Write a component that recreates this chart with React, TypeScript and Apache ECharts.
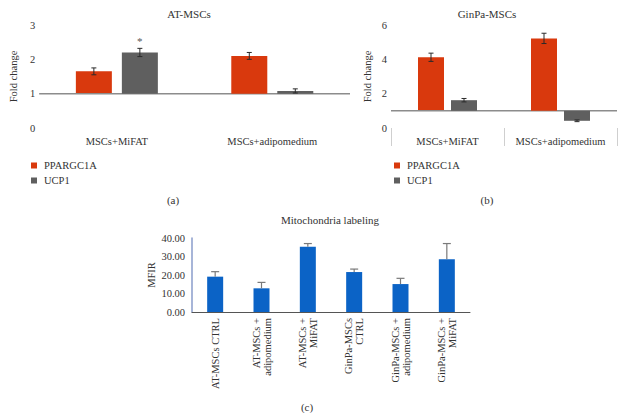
import React, { useEffect, useRef } from "react";
import * as echarts from "echarts";

// Fold-change panels (a) AT-MSCs and (b) GinPa-MSCs
const GROUPS = ["MSCs+MiFAT", "MSCs+adipomedium"];
const GENES = ["PPARGC1A", "UCP1"];
const FOLD_BASE = 1;

const AT_PPARGC1A = [1.65, 2.1];
const AT_PPARGC1A_ERR = [0.1, 0.1];
const AT_UCP1 = [2.2, 1.08];
const AT_UCP1_ERR = [0.12, 0.06];
const AT_UCP1_SIG = ["*", ""];

const GP_PPARGC1A = [4.12, 5.22];
const GP_PPARGC1A_ERR = [0.24, 0.3];
const GP_UCP1 = [1.62, 0.42];
const GP_UCP1_ERR = [0.1, 0.05];

const AT_TICKS = [0, 3, 1];
const GP_TICKS = [0, 6, 2];

// Panel (c) mitochondria labeling
const MITO_CATS = [
  "AT-MSCs CTRL",
  "AT-MSCs +\nadipomedium",
  "AT-MSCs +\nMiFAT",
  "GinPa-MSCs\nCTRL",
  "GinPa-MSCs +\nadipomedium",
  "GinPa-MSCs +\nMiFAT",
];
const MITO_MFIR = [19.1, 12.8, 35.3, 21.6, 15.1, 28.5];
const MITO_ERR = [2.7, 3.2, 1.7, 1.6, 3.1, 8.5];
const MFIR_TICKS = [0, 40, 10];

const RED = "#d9390d";
const GRAY = "#5f5f5f";
const BLUE = "#0b63c6";
const FONT = "Liberation Serif";
const TXT = "#333";

function foldBars(
  name: string,
  gridIndex: number,
  values: number[],
  errs: number[],
  color: string,
  offset: number,
  width: number,
  marks: string[] | null,
  drawBase: boolean
) {
  return {
    type: "custom",
    name,
    xAxisIndex: gridIndex,
    yAxisIndex: gridIndex,
    itemStyle: { color },
    data: values.map((v, i) => [i, v, errs[i]]),
    renderItem: (params: any, api: any) => {
      const i = api.value(0);
      const v = api.value(1);
      const e = api.value(2);
      const b = api.coord([i, FOLD_BASE]);
      const t = api.coord([i, v]);
      const hi = api.coord([i, v + e]);
      const lo = api.coord([i, v - e]);
      const cx = b[0] + offset;
      const children: any[] = [
        {
          type: "rect",
          shape: {
            x: cx - width / 2,
            y: Math.min(b[1], t[1]),
            width,
            height: Math.abs(b[1] - t[1]),
          },
          style: { fill: color },
        },
        {
          type: "line",
          shape: { x1: cx, y1: hi[1], x2: cx, y2: lo[1] },
          style: { stroke: "#2a2a2a", lineWidth: 1 },
        },
        {
          type: "line",
          shape: { x1: cx - 2.5, y1: hi[1], x2: cx + 2.5, y2: hi[1] },
          style: { stroke: "#2a2a2a", lineWidth: 1 },
        },
        {
          type: "line",
          shape: { x1: cx - 2.5, y1: lo[1], x2: cx + 2.5, y2: lo[1] },
          style: { stroke: "#2a2a2a", lineWidth: 1 },
        },
      ];
      if (marks && marks[i]) {
        children.push({
          type: "text",
          x: cx,
          y: hi[1] - 2,
          style: {
            text: marks[i],
            textAlign: "center",
            textVerticalAlign: "bottom",
            font: `11px ${FONT}`,
            fill: "#555",
          },
        });
      }
      if (drawBase && params.dataIndex === 0) {
        const cs = params.coordSys;
        children.push({
          type: "line",
          shape: { x1: cs.x, y1: b[1], x2: cs.x + cs.width, y2: b[1] },
          style: { stroke: "#8c8c8c", lineWidth: 1.5 },
        });
      }
      return { type: "group", children };
    },
  };
}

function foldAxes(gridIndex: number, ticks: number[], withSeparators: boolean, nameGap: number) {
  const x = {
    type: "category",
    gridIndex,
    data: GROUPS,
    axisLine: { show: false },
    axisTick: {
      show: withSeparators,
      length: 18,
      lineStyle: { color: "#cfcfcf", width: 1 },
    },
    axisLabel: {
      interval: 0,
      hideOverlap: false,
      color: TXT,
      fontSize: 10.5,
      fontFamily: FONT,
      margin: 8,
    },
  };
  const y = {
    type: "value",
    gridIndex,
    min: ticks[0],
    max: ticks[1],
    interval: ticks[2],
    axisLine: { show: false },
    axisTick: { show: false },
    splitLine: { show: false },
    axisLabel: { color: TXT, fontSize: 10.5, fontFamily: FONT, margin: 4 },
    name: "Fold change",
    nameLocation: "middle",
    nameGap,
    nameTextStyle: { color: TXT, fontSize: 10.5, fontFamily: FONT },
  };
  return { x, y };
}

function legendAt(left: number) {
  return {
    orient: "vertical",
    left,
    top: 155,
    itemGap: 4,
    itemWidth: 6,
    itemHeight: 6,
    icon: "rect",
    selectedMode: false,
    textStyle: { color: TXT, fontSize: 10.5, fontFamily: FONT, padding: [0, 0, 0, 2] },
    data: [
      { name: GENES[0], itemStyle: { color: RED } },
      { name: GENES[1], itemStyle: { color: GRAY } },
    ],
  };
}

function caption(text: string, x: number, y: number, size = 11) {
  return {
    type: "text",
    x,
    y,
    style: {
      text,
      textAlign: "center",
      textVerticalAlign: "middle",
      font: `${size}px ${FONT}`,
      fill: TXT,
    },
  };
}

export default function App() {
  const ref = useRef<HTMLDivElement>(null);

  useEffect(() => {
    if (!ref.current) return;
    const chart = echarts.init(ref.current, null, { renderer: "svg" });

    const a = foldAxes(0, AT_TICKS, false, 16);
    const b = foldAxes(1, GP_TICKS, true, 18);

    chart.setOption({
      animation: false,
      textStyle: { fontFamily: FONT, color: TXT },
      grid: [
        { left: 28, top: 25, width: 322, height: 103 },
        { left: 391, top: 25, width: 226, height: 103 },
        { left: 192, top: 238, width: 278, height: 74 },
      ],
      legend: [legendAt(26), legendAt(389)],
      xAxis: [
        a.x,
        b.x,
        {
          type: "category",
          gridIndex: 2,
          data: MITO_CATS,
          axisLine: { show: true, lineStyle: { color: "#555", width: 1 } },
          axisTick: { show: false },
          axisLabel: {
            interval: 0,
            rotate: 90,
            color: TXT,
            fontSize: 10.5,
            lineHeight: 11,
            fontFamily: FONT,
            margin: 6,
          },
        },
      ],
      yAxis: [
        a.y,
        b.y,
        {
          type: "value",
          gridIndex: 2,
          min: MFIR_TICKS[0],
          max: MFIR_TICKS[1],
          interval: MFIR_TICKS[2],
          axisLine: { show: true, lineStyle: { color: "#8a9ccb", width: 1.5 } },
          axisTick: { show: false },
          splitLine: { show: false },
          axisLabel: {
            color: TXT,
            fontSize: 10.5,
            fontFamily: FONT,
            margin: 7,
            formatter: (v: number) => v.toFixed(2),
          },
          name: "MFIR",
          nameLocation: "middle",
          nameGap: 35,
          nameTextStyle: { color: TXT, fontSize: 10.5, fontFamily: FONT },
        },
      ],
      series: [
        foldBars(GENES[0], 0, AT_PPARGC1A, AT_PPARGC1A_ERR, RED, -23, 36, null, true),
        foldBars(GENES[1], 0, AT_UCP1, AT_UCP1_ERR, GRAY, 23, 36, AT_UCP1_SIG, false),
        foldBars(GENES[0], 1, GP_PPARGC1A, GP_PPARGC1A_ERR, RED, -16.5, 26, null, true),
        foldBars(GENES[1], 1, GP_UCP1, GP_UCP1_ERR, GRAY, 16.5, 26, null, false),
        {
          type: "bar",
          name: "MFIR",
          xAxisIndex: 2,
          yAxisIndex: 2,
          data: MITO_MFIR,
          barWidth: 16,
          itemStyle: { color: BLUE },
        },
        {
          type: "custom",
          name: "MFIR error",
          xAxisIndex: 2,
          yAxisIndex: 2,
          data: MITO_MFIR.map((v, i) => [i, v, MITO_ERR[i]]),
          z: 3,
          renderItem: (_p: any, api: any) => {
            const i = api.value(0);
            const v = api.value(1);
            const e = api.value(2);
            const t = api.coord([i, v]);
            const hi = api.coord([i, v + e]);
            return {
              type: "group",
              children: [
                {
                  type: "line",
                  shape: { x1: t[0], y1: t[1], x2: t[0], y2: hi[1] },
                  style: { stroke: "#7a7a7a", lineWidth: 1.2 },
                },
                {
                  type: "line",
                  shape: { x1: t[0] - 4, y1: hi[1], x2: t[0] + 4, y2: hi[1] },
                  style: { stroke: "#7a7a7a", lineWidth: 1.2 },
                },
              ],
            };
          },
        },
      ],
      graphic: [
        caption("AT-MSCs", 189, 14),
        caption("GinPa-MSCs", 487, 14),
        caption("(a)", 173, 200),
        caption("(b)", 487, 200),
        caption("Mitochondria labeling", 330, 220),
        caption("(c)", 307, 407),
      ],
    });

    return () => chart.dispose();
  }, []);

  return (
    <div
      ref={ref}
      style={{ position: "fixed", left: 0, top: 0, width: 618, height: 413, background: "#fff" }}
    />
  );
}
